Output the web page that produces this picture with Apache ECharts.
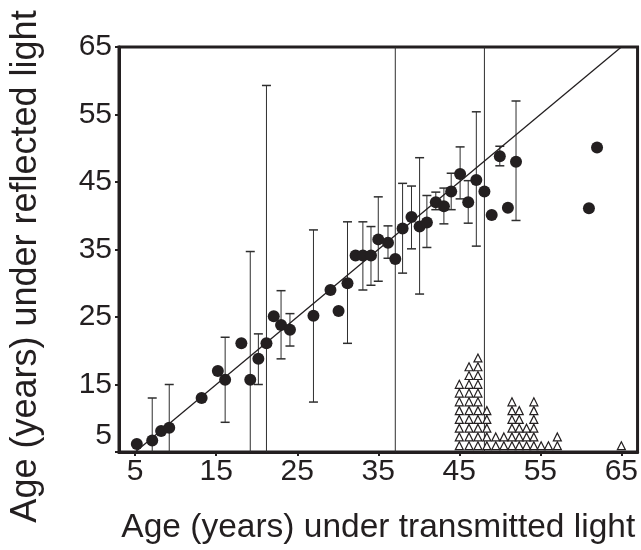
<!DOCTYPE html>
<html>
<head>
<meta charset="utf-8">
<script src="https://cdn.jsdelivr.net/npm/echarts@6/dist/echarts.min.js"></script>
<style>
  html, body { margin: 0; background: #fff; }
  #chart { width: 641px; height: 550px; }
</style>
</head>
<body>
<div id="chart"></div>
<script>
// age read under transmitted light (x) and reflected light (y), one entry per fish
const ageTransmitted = [5.2, 7.1, 8.2, 9.2, 13.2, 15.2, 16.1, 18.1, 19.2, 20.2, 21.2, 22.1, 23.0, 24.1, 27.0, 29.1, 30.1, 31.2, 32.2, 33.1, 34.1, 35.0, 36.2, 37.1, 38.0, 39.1, 40.1, 41.0, 42.1, 43.1, 44.0, 45.1, 46.1, 47.1, 48.1, 49.0, 50.0, 51.0, 52.0, 61.0, 62.0]
const ageReflected = [6.2, 6.7, 8.1, 8.6, 13.0, 17.0, 15.7, 21.1, 15.7, 18.8, 21.1, 25.1, 23.8, 23.1, 25.2, 29.0, 25.9, 30.0, 34.1, 34.1, 34.1, 36.5, 36.0, 33.6, 38.1, 39.8, 38.4, 39.0, 42.0, 41.4, 43.6, 46.2, 42.0, 45.3, 43.6, 40.1, 48.8, 41.2, 48.0, 41.1, 50.1]
// error bar ends (null = no bar); values past the axis range get clipped
const errLow = [null, 0, null, 0, null, null, 9.4, null, 0, 15.0, 0, null, 18.8, 20.7, 12.4, null, null, 21.1, null, 29.0, 29.7, 30.3, 33.7, 0, 31.5, 35.1, 28.4, 35.3, 40.9, 38.8, 40.9, 42.5, 38.9, 35.5, 0, null, 47.4, null, 39.3, null, null]
const errHigh = [null, 13.0, null, 15.0, null, null, 22.0, null, 34.7, 22.5, 59.3, null, 28.9, 25.5, 37.9, null, null, 39.1, null, 39.1, 38.4, 42.8, 38.5, 80, 44.8, 44.4, 48.6, 43.0, 43.5, 44.1, 46.3, 50.2, 45.2, 55.4, 80, null, 50.3, null, 57.0, null, null]

// histogram of transmitted-light ages (one triangle per fish)
const histAges = [45, 46.2, 47.3, 48.4, 49.5, 50.5, 51.5, 52.4, 53.3, 54.2, 55.1, 56, 57.1, 65]
const histCounts = [8, 10, 11, 5, 2, 2, 6, 5, 3, 6, 1, 1, 2, 1]

const tickValues = [5, 15, 25, 35, 45, 55, 65]
const identityLine = [[5, 5], [65, 65]]

const ink = '#231f20'
const font = 'Liberation Sans, Arial, sans-serif'

// stack triangles upward from the bottom of the plot
const triBase = 5.93
const triStep = 1.3
const triangles = []
histAges.forEach((age, i) => {
  for (let k = 0; k < histCounts[i]; k++) triangles.push([age, triBase + k * triStep])
})

const points = ageTransmitted.map((x, i) => [x, ageReflected[i]])
const bars = []
ageTransmitted.forEach((x, i) => {
  if (errLow[i] !== null) bars.push([x, errLow[i], errHigh[i]])
})

const chart = echarts.init(document.getElementById('chart'))
chart.setOption({
  animation: false,
  grid: {left: 118, right: 3, top: 47, bottom: 98, show: true, borderColor: ink, borderWidth: 3},
  xAxis: {
    type: 'value', min: 3, max: 67,
    name: 'Age (years) under transmitted light', nameLocation: 'middle', nameGap: 59,
    nameTextStyle: {fontSize: 33.5, color: ink, fontFamily: font},
    axisLine: {onZero: false, lineStyle: {color: ink, width: 3}},
    axisTick: {customValues: tickValues, length: 4, lineStyle: {color: ink, width: 2}},
    axisLabel: {customValues: tickValues, fontSize: 30, color: ink, fontFamily: font, margin: 5},
    splitLine: {show: false}
  },
  yAxis: {
    type: 'value', min: 5, max: 65, interval: 10,
    name: 'Age (years) under reflected light', nameLocation: 'middle', nameGap: 75,
    nameTextStyle: {fontSize: 36, color: ink, fontFamily: font, padding: [0, 34, 0, 0]},
    axisLine: {onZero: false, lineStyle: {color: ink, width: 3}},
    axisTick: {length: 4, lineStyle: {color: ink, width: 2}},
    axisLabel: {
      fontSize: 30, color: ink, fontFamily: font, margin: 7,
      formatter: v => (v === 5 ? '{lo|5}' : String(v)),
      rich: {lo: {fontSize: 30, color: ink, fontFamily: font, padding: [0, 0, 32, 0]}}
    },
    splitLine: {show: false}
  },
  series: [
    {
      type: 'custom',
      clip: true,
      data: bars,
      renderItem: (params, api) => {
        const x = api.value(0)
        const lo = api.coord([x, api.value(1)])
        const hi = api.coord([x, api.value(2)])
        const cap = 4.5
        const capStyle = {stroke: '#2e2e2e', lineWidth: 1.5}
        return {
          type: 'group',
          children: [
            {type: 'line', shape: {x1: hi[0], y1: hi[1], x2: lo[0], y2: lo[1]}, style: {stroke: '#2e2e2e', lineWidth: 1}},
            {type: 'line', shape: {x1: hi[0] - cap, y1: hi[1], x2: hi[0] + cap, y2: hi[1]}, style: capStyle},
            {type: 'line', shape: {x1: lo[0] - cap, y1: lo[1], x2: lo[0] + cap, y2: lo[1]}, style: capStyle}
          ]
        }
      },
      z: 1
    },
    {
      type: 'line',
      data: identityLine,
      symbol: 'none',
      lineStyle: {color: ink, width: 1.3},
      z: 2
    },
    {
      type: 'scatter',
      data: points,
      symbol: 'circle',
      symbolSize: 12,
      itemStyle: {color: ink, opacity: 1},
      z: 3
    },
    {
      type: 'scatter',
      data: triangles,
      symbol: 'triangle',
      symbolSize: [8, 8],
      itemStyle: {color: '#fff', borderColor: ink, borderWidth: 1.2, opacity: 1},
      z: 4
    }
  ]
})
</script>
</body>
</html>
